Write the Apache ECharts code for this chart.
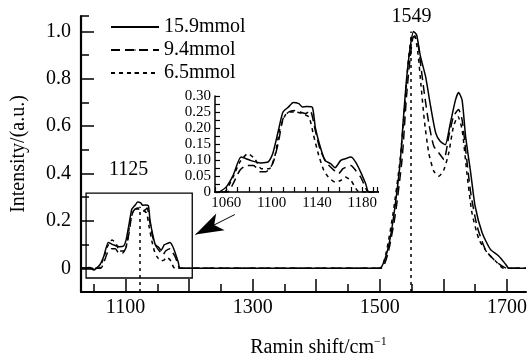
<!DOCTYPE html>
<html><head><meta charset="utf-8">
<script src="https://cdn.jsdelivr.net/npm/echarts@6/dist/echarts.min.js"></script>
<style>html,body{margin:0;padding:0;background:#fff}#c{width:527px;height:362px}</style>
</head><body><div id="c"></div>
<script>
// ---- data (wavenumber cm^-1, normalized intensity) ----
const seriesNames = ['15.9mmol', '9.4mmol', '6.5mmol'];
const solid159 = [[1030,0],[1044,0.003],[1050,-0.007],[1054,0],[1060,0.016],[1066,0.052],[1073,0.109],[1081,0.099],[1090,0.091],[1097,0.094],[1101,0.12],[1106,0.193],[1110,0.25],[1115,0.266],[1119,0.28],[1124,0.276],[1127,0.266],[1131,0.267],[1136,0.264],[1138.5,0.203],[1143,0.14],[1147,0.099],[1152,0.089],[1156,0.076],[1161,0.099],[1165,0.104],[1170,0.109],[1174,0.094],[1178.5,0.063],[1183,0.026],[1186,0],[1500,0],[1508,0.038],[1516,0.122],[1524,0.262],[1532,0.445],[1537,0.627],[1542,0.796],[1548,0.936],[1553,1.0],[1558,0.985],[1564,0.894],[1572,0.81],[1580,0.683],[1588,0.571],[1595,0.536],[1603,0.522],[1611,0.613],[1619,0.71],[1624,0.742],[1629.5,0.71],[1635,0.557],[1643,0.403],[1650,0.262],[1661,0.15],[1674,0.08],[1687,0.052],[1698,0.017],[1703,0],[1730,0]];
const dashed94 = [[1030,0],[1061,0],[1066,0.026],[1072,0.068],[1078,0.083],[1084,0.083],[1090,0.063],[1095,0.063],[1101,0.089],[1106,0.156],[1110,0.229],[1115,0.25],[1121,0.255],[1125,0.25],[1130,0.245],[1134,0.255],[1138.5,0.193],[1143,0.13],[1149,0.089],[1155,0.068],[1159,0.057],[1163,0.073],[1170,0.083],[1174,0.068],[1178.5,0.047],[1184,0.005],[1186,0],[1502,0],[1513,0.066],[1524,0.22],[1535,0.459],[1542,0.725],[1548,0.894],[1553,0.978],[1559,0.964],[1564,0.866],[1570,0.74],[1577,0.613],[1585,0.515],[1593,0.487],[1601,0.459],[1608.5,0.557],[1616,0.641],[1624,0.67],[1629.5,0.627],[1635,0.501],[1643,0.319],[1653,0.178],[1666,0.08],[1679,0.038],[1692,0.01],[1700,0],[1730,0]];
const dotted65 = [[1030,0],[1058,0],[1060,0.005],[1066,0.047],[1072,0.094],[1079,0.12],[1085,0.104],[1091,0.073],[1098,0.073],[1103,0.115],[1107,0.193],[1112,0.24],[1116,0.25],[1121,0.25],[1127,0.245],[1133,0.234],[1137,0.177],[1141.5,0.115],[1146,0.068],[1150,0.047],[1156,0.031],[1161,0.036],[1165,0.047],[1170,0.036],[1175.5,0.005],[1178,0],[1500,0],[1510,0.066],[1521,0.234],[1532,0.459],[1540,0.71],[1545,0.88],[1550,0.978],[1554.5,0.985],[1560,0.908],[1565,0.768],[1570,0.627],[1577,0.487],[1585,0.41],[1593,0.389],[1601,0.417],[1608.5,0.487],[1616,0.6],[1623,0.641],[1629.5,0.585],[1637,0.403],[1645,0.234],[1656,0.122],[1669,0.066],[1682,0.031],[1695,0],[1730,0]];

// ---- ticks & labels ----
const mainXLabels = [1100, 1300, 1500, 1700];
const mainXMajorTicks = [1100, 1200, 1300, 1400, 1500, 1600, 1700];
const mainXMinorTicks = [1050, 1150, 1250, 1350, 1450, 1550, 1650];
const mainYLabels = [0, 0.2, 0.4, 0.6, 0.8, 1.0];
const mainYMinorTicks = [0.1, 0.3, 0.5, 0.7, 0.9, 1.065];
const insetXLabels = [1060, 1100, 1140, 1180];
const insetYLabels = [0, 0.05, 0.1, 0.15, 0.2, 0.25, 0.3];

// ---- annotations ----
const peakMain = 1549, peakMainLabel = '1549';
const peakSmall = 1122, peakSmallLabel = '1125';

const FONT = 'Liberation Serif, "Times New Roman", serif';
const black = '#000';
const chart = echarts.init(document.getElementById('c'), null, {renderer: 'canvas'});

function lineSeries(name, data, type, xi, yi, extra) {
  return Object.assign({
    name, type: 'line', data, xAxisIndex: xi, yAxisIndex: yi,
    symbol: 'none', smooth: 0.2, animation: false,
    lineStyle: {color: black, width: 1.5, type: type},
    itemStyle: {color: black}
  }, extra || {});
}

const txt = {color: black, fontFamily: FONT};

const option = {
  animation: false,
  backgroundColor: '#fff',
  legend: {
    orient: 'vertical', left: 105, top: 12, itemWidth: 48, itemHeight: 2, itemGap: 3,
    data: seriesNames,
    textStyle: Object.assign({fontSize: 20, lineHeight: 20}, txt),
    selectedMode: false
  },
  grid: [
    {left: 81, right: 1, top: 16, bottom: 70, outerBoundsMode: 'none'},
    {left: 215, right: 150, top: 96, bottom: 170, outerBoundsMode: 'none'}
  ],
  xAxis: [
    {type: 'value', gridIndex: 0, min: 1030, max: 1730, position: 'bottom',
     axisLine: {onZero: false, lineStyle: {color: black, width: 2}},
     axisTick: {show: true, inside: true, length: 8, customValues: mainXMinorTicks, lineStyle: {color: black, width: 1.5}},
     axisLabel: Object.assign({customValues: mainXLabels, fontSize: 20, margin: 6, formatter: v => String(v)}, txt),
     splitLine: {show: false},
     name: '{a|Ramin shift/cm}{b|−1}', nameLocation: 'middle', nameGap: 44,
     nameTextStyle: {padding: [0, 0, 0, 30], rich: {
       a: Object.assign({fontSize: 20, lineHeight: 24}, txt),
       b: Object.assign({fontSize: 12, lineHeight: 24, verticalAlign: 'top'}, txt)
     }}},
    {type: 'value', gridIndex: 0, min: 1030, max: 1730, position: 'bottom',
     axisLine: {show: false, onZero: false},
     axisTick: {show: true, inside: true, length: 13, customValues: mainXMajorTicks, lineStyle: {color: black, width: 1.5}},
     axisLabel: {show: false}, splitLine: {show: false}},
    {type: 'value', gridIndex: 1, min: 1050, max: 1193, interval: 10, position: 'bottom',
     axisLine: {onZero: false, lineStyle: {color: black, width: 1.5}},
     axisTick: {show: true, inside: true, length: 5, lineStyle: {color: black, width: 1.2}},
     axisLabel: Object.assign({customValues: insetXLabels, fontSize: 15, margin: 4, formatter: v => String(v)}, txt),
     splitLine: {show: false}}
  ],
  yAxis: [
    {type: 'value', gridIndex: 0, min: -0.1, max: 1.065, position: 'left',
     axisLine: {show: true, onZero: false, lineStyle: {color: black, width: 2.2}},
     axisTick: {show: true, inside: true, length: 8, customValues: mainYMinorTicks, lineStyle: {color: black, width: 1.5}},
     axisLabel: Object.assign({customValues: mainYLabels, fontSize: 20, margin: 10,
       formatter: v => v === 0 ? '0' : v.toFixed(1)}, txt),
     splitLine: {show: false},
     name: 'Intensity/(a.u.)', nameLocation: 'middle', nameGap: 52,
     nameTextStyle: Object.assign({fontSize: 20}, txt)},
    {type: 'value', gridIndex: 0, min: -0.1, max: 1.065, position: 'left',
     axisLine: {show: false, onZero: false},
     axisTick: {show: true, inside: true, length: 13, customValues: mainYLabels, lineStyle: {color: black, width: 1.5}},
     axisLabel: {show: false}, splitLine: {show: false}},
    {type: 'value', gridIndex: 1, min: 0, max: 0.3, interval: 0.025, position: 'left',
     axisLine: {show: true, onZero: false, lineStyle: {color: black, width: 1.5}},
     axisTick: {show: true, inside: true, length: 5, lineStyle: {color: black, width: 1.2}},
     axisLabel: Object.assign({customValues: insetYLabels, fontSize: 15, margin: 4,
       formatter: v => v === 0 ? '0' : v.toFixed(2)}, txt),
     splitLine: {show: false}}
  ],
  series: [
    lineSeries(seriesNames[0], solid159, 'solid', 0, 0, {
      markArea: {silent: true, label: {show: false},
        itemStyle: {color: 'rgba(0,0,0,0)', borderColor: black, borderWidth: 1.3},
        data: [[{coord: [1038, 0.317]}, {coord: [1205, -0.041]}]]},
      markLine: {silent: true, animation: false, symbol: ['none', 'arrow'], symbolSize: [14, 28],
        label: {show: false}, lineStyle: {color: black, width: 1, type: 'solid'},
        data: [[{coord: [1272, 0.227]}, {coord: [1210, 0.143]}]]},
      markPoint: {silent: true, animation: false, symbol: 'circle', symbolSize: 1,
        itemStyle: {color: 'rgba(0,0,0,0)'},
        label: Object.assign({show: true, position: 'inside', fontSize: 20}, txt),
        data: [
          {coord: [1105, 0.417], label: {formatter: peakSmallLabel}},
          {coord: [1550, 1.061], label: {formatter: peakMainLabel}}
        ]}
    }),
    lineSeries(seriesNames[1], dashed94, [9, 5], 0, 0),
    lineSeries(seriesNames[2], dotted65, [4, 4], 0, 0, {
      markLine: {silent: true, animation: false, symbol: ['none', 'none'], label: {show: false},
        lineStyle: {color: black, width: 1.5, type: [3, 4]},
        data: [
          [{coord: [peakMain, -0.1]}, {coord: [peakMain, 1.0]}],
          [{coord: [peakSmall, -0.1]}, {coord: [peakSmall, 0.26]}]
        ]}
    }),
    lineSeries(seriesNames[0], solid159, 'solid', 2, 2),
    lineSeries(seriesNames[1], dashed94, [9, 5], 2, 2),
    lineSeries(seriesNames[2], dotted65, [4, 4], 2, 2)
  ]
};
chart.setOption(option);
</script></body></html>
